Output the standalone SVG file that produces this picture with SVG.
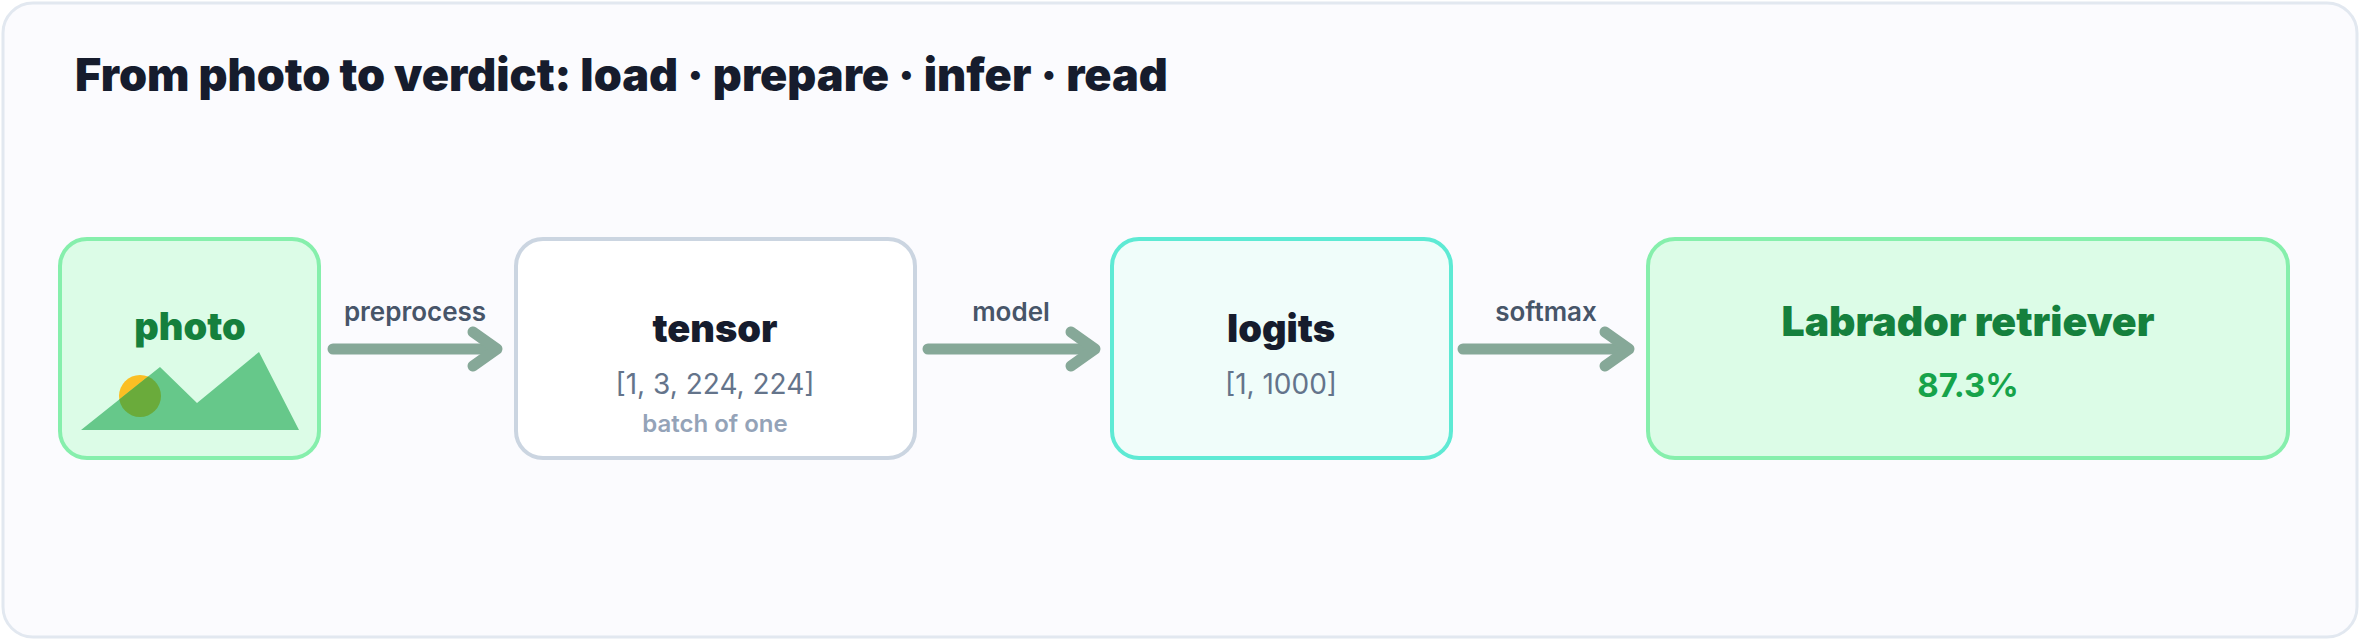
<svg xmlns="http://www.w3.org/2000/svg" width="2360" height="640" viewBox="0 0 2360 640">
<style>
text{font-family:Inter,"Noto Sans","Liberation Sans",sans-serif;text-anchor:middle}
.title{font-size:45px;font-weight:900;fill:#161c2d;text-anchor:start}
.h{font-size:38px;font-weight:900;fill:#161c2d}
.g{fill:#15803d}
.sub{font-size:28px;fill:#64748b}
.note{font-size:24px;font-weight:600;fill:#94a3b8}
.lbl{font-size:26px;font-weight:600;fill:#475569}
.edge{stroke:#86a898;stroke-width:11;stroke-linecap:round;fill:none}
.head{stroke:#86a898;stroke-width:11;stroke-linecap:round;stroke-linejoin:round;fill:none}
</style>
<defs>
<clipPath id="mt"><polygon points="81,430 160,367 197,403 259,352 299,430"/></clipPath>
</defs>
<rect x="3" y="3" width="2354" height="634" rx="30" fill="#fbfbfe" stroke="#e2e8f0" stroke-width="3"/>
<text class="title" x="75" y="91">From photo to verdict: load · prepare · infer · read</text>
<g id="photo">
<rect x="60" y="239" width="259" height="219" rx="27" fill="#dcfce7" stroke="#86efac" stroke-width="4"/>
<text class="h g" x="190" y="340">photo</text>
<circle cx="140" cy="396" r="21" fill="#fbbf24"/>
<polygon points="81,430 160,367 197,403 259,352 299,430" fill="#66c88a"/>
<circle cx="140" cy="396" r="21" fill="#6aab3b" clip-path="url(#mt)"/>
</g>
<g id="tensor">
<rect x="516" y="239" width="399" height="219" rx="27" fill="#ffffff" stroke="#cbd5e1" stroke-width="4"/>
<text class="h" x="715" y="342">tensor</text>
<text class="sub" x="715" y="394">[1, 3, 224, 224]</text>
<text class="note" x="715" y="432">batch of one</text>
</g>
<g id="logits">
<rect x="1112" y="239" width="339" height="219" rx="27" fill="#f0fdfa" stroke="#5eead4" stroke-width="4"/>
<text class="h" x="1281" y="342">logits</text>
<text class="sub" x="1281" y="394">[1, 1000]</text>
</g>
<g id="label">
<rect x="1648" y="239" width="640" height="219" rx="27" fill="#dcfce7" stroke="#86efac" stroke-width="4"/>
<text class="h g" x="1968" y="336" style="font-size:41px">Labrador retriever</text>
<text x="1968" y="397" style="font-size:33px;font-weight:700;fill:#16a34a">87.3%</text>
</g>
<g id="connectors">
<line class="edge" x1="333" y1="349" x2="490" y2="349"/>
<polyline class="head" points="473,332 497,349 473,366"/>
<text class="lbl" x="415" y="321">preprocess</text>
<line class="edge" x1="928" y1="349" x2="1088" y2="349"/>
<polyline class="head" points="1071,332 1095,349 1071,366"/>
<text class="lbl" x="1011" y="321">model</text>
<line class="edge" x1="1463" y1="349" x2="1622" y2="349"/>
<polyline class="head" points="1605,332 1629,349 1605,366"/>
<text class="lbl" x="1546" y="321">softmax</text>
</g>
</svg>
